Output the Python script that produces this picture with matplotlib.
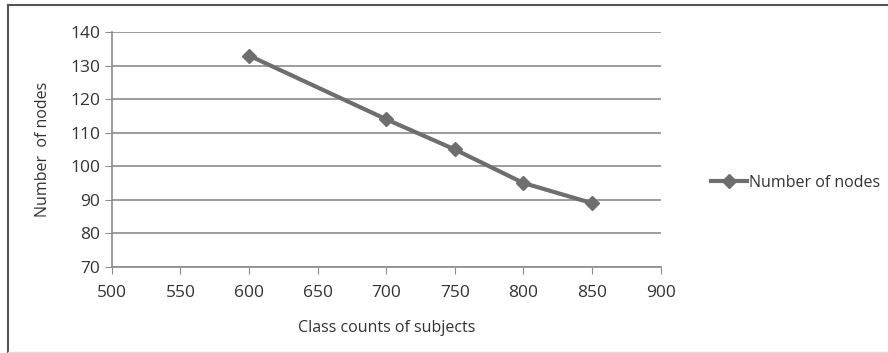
import matplotlib.pyplot as plt
from matplotlib.lines import Line2D

class_counts = [600, 700, 750, 800, 850]
num_nodes = [133, 114, 105, 95, 89]

plt.rcParams['font.family'] = ['Open Sans', 'DejaVu Sans']

fig = plt.figure(figsize=(8.88, 3.53), dpi=100)
ax = fig.add_axes([0.126, 0.244, 0.618, 0.665])

line_col = "#6e6e6e"
ax.plot(class_counts, num_nodes, color=line_col, linewidth=3, marker="D",
        markersize=7, label="Number of nodes", zorder=3)

ax.set_xlim(500, 900)
ax.set_ylim(70, 140)
ax.set_xticks(range(500, 901, 50))
ax.set_yticks(range(70, 141, 10))
ax.grid(axis="y", color="#8c8c8c", linewidth=1.2)
for s in ["top", "right"]:
    ax.spines[s].set_visible(False)
for s in ["left", "bottom"]:
    ax.spines[s].set_color("#8c8c8c")
    ax.spines[s].set_linewidth(1.2)
ax.tick_params(colors="#8c8c8c", labelcolor="#333333", labelsize=12.5, length=5)
ax.tick_params(axis="x", pad=8)

ax.set_xlabel("Class counts of subjects", fontsize=11.5, color="#333333", labelpad=14)
ax.set_ylabel("Number  of nodes", fontsize=11.5, color="#333333", labelpad=14)

ax.legend(loc="center left", bbox_to_anchor=(1.065, 0.357), frameon=False,
          fontsize=11.5, handlelength=2.3, handletextpad=0.1,
          labelcolor="#333333")

# outer frame like the pasted chart border
fig.add_artist(Line2D([0.009, 0.009], [0.0, 0.986], color="#555555", linewidth=1.5))
fig.add_artist(Line2D([0.009, 1.0], [0.986, 0.986], color="#555555", linewidth=1.5))
fig.add_artist(Line2D([0.009, 1.0], [0.003, 0.003], color="#dddddd", linewidth=1))

fig.savefig("out.png", dpi=100)
